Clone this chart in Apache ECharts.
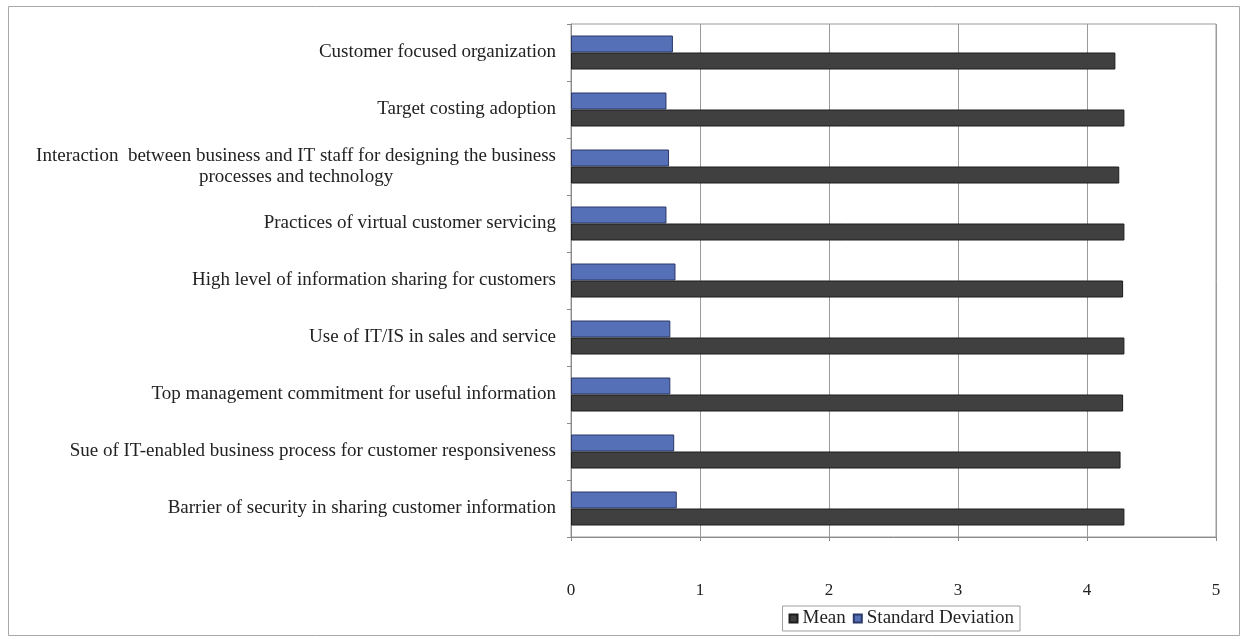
<!DOCTYPE html>
<html>
<head>
<meta charset="utf-8">
<title>Mean and Standard Deviation</title>
<script src="https://cdn.jsdelivr.net/npm/echarts@6/dist/echarts.min.js"></script>
<style>
  html, body { margin: 0; padding: 0; background: #ffffff; }
  #chart { width: 1247px; height: 639px; }
</style>
</head>
<body>
<div id="chart"></div>
<script>
// Factors, listed top to bottom
const categories = [
  'Customer focused organization',
  'Target costing adoption',
  'Interaction  between business and IT staff for designing the business\nprocesses and technology',
  'Practices of virtual customer servicing',
  'High level of information sharing for customers',
  'Use of IT/IS in sales and service',
  'Top management commitment for useful information',
  'Sue of IT-enabled business process for customer responsiveness',
  'Barrier of security in sharing customer information'
];
const meanValues = [4.22, 4.29, 4.25, 4.29, 4.28, 4.29, 4.28, 4.26, 4.29];
const sdValues = [0.79, 0.74, 0.76, 0.74, 0.81, 0.77, 0.77, 0.80, 0.82];
const xTickMin = 0;
const xTickMax = 5;
const xTickStep = 1;

const serif = '"Liberation Serif", "Times New Roman", serif';
const chart = echarts.init(document.getElementById('chart'), null, { renderer: 'canvas' });

chart.setOption({
  backgroundColor: '#ffffff',
  animation: false,
  graphic: [{
    type: 'rect',
    silent: true,
    shape: { x: 8.5, y: 6.5, width: 1231, height: 629 },
    style: { fill: 'none', stroke: '#a8a8a8', lineWidth: 1 }
  }],
  grid: {
    left: 571, right: 31, top: 24, bottom: 102,
    show: true, borderColor: '#9a9a9a', borderWidth: 1, backgroundColor: 'transparent'
  },
  legend: {
    data: ['Mean', 'Standard Deviation'],
    right: 227, top: 606,
    padding: [3, 6, 3, 6],
    borderColor: '#a0a0a0', borderWidth: 1,
    icon: 'rect', itemWidth: 8, itemHeight: 8, itemGap: 7,
    textStyle: { fontFamily: serif, fontSize: 19, color: '#222' }
  },
  xAxis: {
    type: 'value',
    min: xTickMin, max: xTickMax, interval: xTickStep,
    axisLine: { show: true, lineStyle: { color: '#8a8a8a' } },
    axisTick: { show: true, length: 4, lineStyle: { color: '#8a8a8a' } },
    splitLine: { show: true, lineStyle: { color: '#9a9a9a', width: 1 } },
    axisLabel: { margin: 45, fontFamily: serif, fontSize: 17, color: '#222' }
  },
  yAxis: {
    type: 'category',
    inverse: true,
    data: categories,
    axisLine: { show: true, lineStyle: { color: '#8a8a8a' } },
    axisTick: { show: true, length: 4, lineStyle: { color: '#8a8a8a' } },
    axisLabel: {
      margin: 15,
      formatter: function (v) {
        return v.split('\n').map(function (s) { return '{c|' + s + '}'; }).join('\n');
      },
      rich: {
        c: { fontFamily: serif, fontSize: 19, color: '#222', align: 'center', lineHeight: 21 }
      }
    }
  },
  series: [
    {
      name: 'Standard Deviation',
      type: 'bar',
      data: sdValues,
      barWidth: 17,
      barGap: '0%',
      itemStyle: { color: '#5570b6', borderColor: '#2b3868', borderWidth: 1 }
    },
    {
      name: 'Mean',
      type: 'bar',
      data: meanValues,
      barWidth: 17,
      barGap: '0%',
      itemStyle: { color: '#404040', borderColor: '#1c1c1c', borderWidth: 1 }
    }
  ]
});
</script>
</body>
</html>
